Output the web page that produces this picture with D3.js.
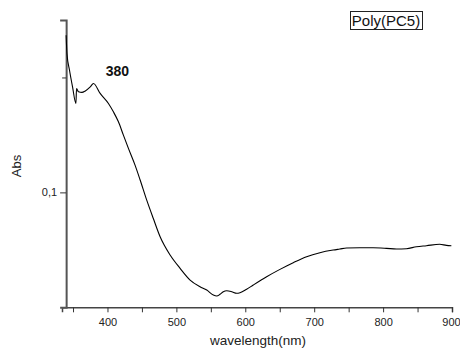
<!DOCTYPE html>
<html>
  <head>
    <meta charset="utf-8">
    <title>Poly(PC5) absorbance</title>
    <script type="text/javascript" src="https://cdn.jsdelivr.net/npm/d3@7"></script>
    <style type='text/css'>
      body { margin: 0; background: white; }
      text { font-family: 'Liberation Sans', Arial, sans-serif; }
    </style>
  </head>
  <body>
    <script type="text/javascript">
      var w = 460;
      var h = 349;

      // spectrum
      var wavelength = [340, 341.2, 344.9, 349.3, 354.2, 355.1, 358, 362.9, 367.8, 375, 379.7,
        389.4, 401.4, 408.6, 415.9, 423.1, 430.4, 440, 447.3, 457.1, 466.7, 476.4, 490.9,
        505.4, 519.9, 534.3, 544.1, 553.6, 558.6, 563.3, 568.1, 573, 580.3, 587.5, 592.3,
        602, 611.6, 631, 650.3, 669.6, 689, 708.3, 727.5, 737.2, 746.9, 766.2, 785.5,
        804.9, 819.4, 833.9, 848.4, 862.9, 882.2, 891.9, 899.1];
      var abs = [0.2368, 0.2209, 0.2063, 0.1918, 0.1774, 0.1904, 0.1875, 0.1870, 0.1883, 0.1918, 0.1948,
        0.1861, 0.1774, 0.1701, 0.1614, 0.1498, 0.1383, 0.1237, 0.1110, 0.0930, 0.0770, 0.0614, 0.0455,
        0.0339, 0.0237, 0.0179, 0.0150, 0.0107, 0.0098, 0.0113, 0.0136, 0.0144, 0.0136, 0.0122, 0.0127,
        0.0157, 0.0194, 0.0266, 0.0330, 0.0388, 0.0440, 0.0475, 0.0498, 0.0507, 0.0516, 0.0518, 0.0518,
        0.0513, 0.0507, 0.0510, 0.0527, 0.0536, 0.0548, 0.0539, 0.0536];

      var xMajor = [400, 500, 600, 700, 800, 900];
      var xMinor = [350, 450, 550, 650, 750, 850];
      var yMajor = [0.1];
      var yMinor = [0.2];
      var peakLabel = '380';
      var legendLabel = 'Poly(PC5)';

      var data = wavelength.map(function(d, i) { return {x: d, y: abs[i]}; });

      var svg = d3.select('body')
                  .append('svg')
                  .attr('width', w)
                  .attr('height', h);

      var x = d3.scaleLinear().domain([334, 900]).range([62, 452]);
      var y = d3.scaleLinear().domain([0, 0.25]).range([307.3, 20]);
      var x0 = x(340);

      // x axis
      var xAxis = svg.append('g').attr('transform', 'translate(0,' + y(0) + ')');
      xAxis.call(d3.axisBottom(x).tickValues(xMajor).tickSize(5).tickPadding(6).tickFormat(d3.format('d')));
      xAxis.append('g').call(d3.axisBottom(x).tickValues(xMinor).tickSize(5).tickFormat(''))
        .select('.domain').remove();
      xAxis.selectAll('.domain').attr('stroke', '#444').attr('stroke-width', 1.5);
      xAxis.selectAll('.tick line').attr('stroke', '#333');
      xAxis.selectAll('.tick text').attr('font-size', '11px').attr('fill', '#222')
        .attr('font-family', "'Liberation Sans', Arial, sans-serif");
      // keep the last label inside the window
      xAxis.selectAll('.tick text').filter(function(d) { return d === 900; }).attr('dx', -1);

      // y axis
      var yAxis = svg.append('g').attr('transform', 'translate(' + x0 + ',0)');
      yAxis.call(d3.axisLeft(y).tickValues(yMajor).tickSize(6).tickPadding(3)
        .tickFormat(function(d) { return String(d).replace('.', ','); }));
      yAxis.append('g').call(d3.axisLeft(y).tickValues(yMinor).tickSize(4).tickFormat(''))
        .select('.domain').remove();
      yAxis.selectAll('.domain').attr('stroke', '#555').attr('stroke-width', 2);
      yAxis.selectAll('.tick line').attr('stroke', '#333');
      yAxis.selectAll('.tick text').attr('font-size', '11px').attr('fill', '#222')
        .attr('font-family', "'Liberation Sans', Arial, sans-serif");

      var line = d3.line()
        .x(function(d) { return x(d.x); })
        .y(function(d) { return y(d.y); })
        .curve(d3.curveMonotoneX);

      svg.append('path')
        .datum(data)
        .attr('d', line)
        .attr('fill', 'none')
        .attr('stroke', 'black')
        .attr('stroke-width', 1.1);

      // peak annotation
      svg.append('text')
        .text(peakLabel)
        .attr('x', x(380) + 12)
        .attr('y', 76)
        .attr('font-size', '14px')
        .attr('font-weight', 'bold')
        .attr('fill', '#111');

      // legend box
      var legend = svg.append('g');
      legend.append('text')
        .text(legendLabel)
        .attr('x', 386)
        .attr('y', 26)
        .attr('text-anchor', 'middle')
        .attr('font-size', '15px')
        .attr('fill', '#111');
      legend.append('rect')
        .attr('x', 350.5)
        .attr('y', 11.5)
        .attr('width', 72)
        .attr('height', 18)
        .attr('fill', 'none')
        .attr('stroke', '#222')
        .attr('stroke-width', 1);

      // axis titles
      svg.append('text')
        .text('wavelength(nm)')
        .attr('x', 258)
        .attr('y', 345)
        .attr('text-anchor', 'middle')
        .attr('font-size', '13.5px')
        .attr('fill', '#222');

      svg.append('text')
        .text('Abs')
        .attr('transform', 'translate(21,166) rotate(-90)')
        .attr('text-anchor', 'middle')
        .attr('font-size', '13px')
        .attr('fill', '#222');
    </script>
  </body>
</html>
